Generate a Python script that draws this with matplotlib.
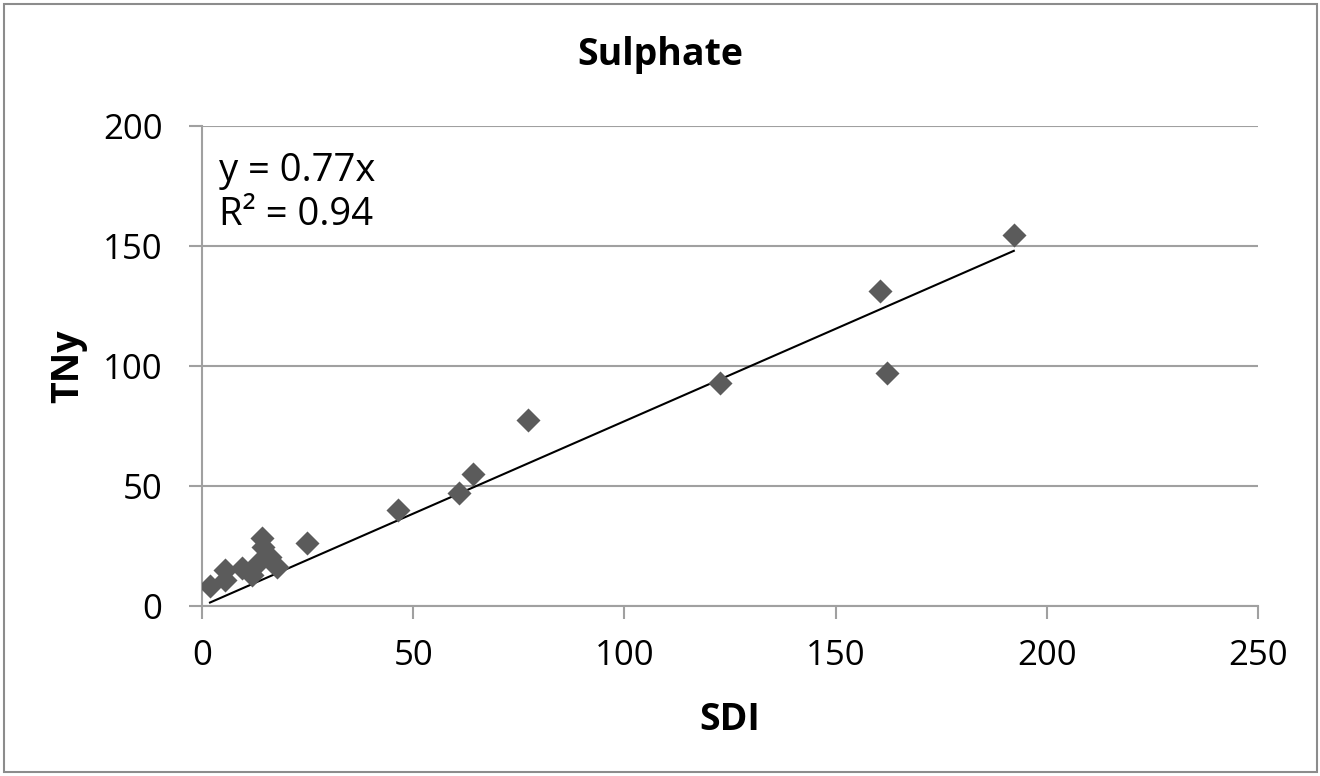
import matplotlib.pyplot as plt
from matplotlib.patches import Rectangle

# Sulphate: SDI vs TNy
sdi = [1.9, 5.4, 5.4, 9.5, 11.8, 13.3, 14.2, 14.4, 16.1, 17.7, 24.8,
       46.4, 60.8, 64.1, 77.2, 122.6, 160.5, 162.1, 192.2]
tny = [8.3, 15.0, 10.8, 15.8, 12.9, 17.9, 28.3, 24.6, 20.4, 16.3, 26.3,
       40.0, 47.0, 55.0, 77.5, 92.9, 131.3, 97.0, 154.6]
slope = 0.77
eq_text = "y = 0.77x\nR\u00b2 = 0.94"

plt.rcParams['font.family'] = ['Open Sans', 'DejaVu Sans']

fig = plt.figure(figsize=(13.2, 7.76), dpi=100)
ax = fig.add_axes([0.153, 0.219, 0.8, 0.6186])

ax.scatter(sdi, tny, marker='D', s=150, color='#5b5b5b', zorder=3, linewidths=0)

# linear trend line through origin
x0, x1 = min(sdi), max(sdi)
ax.plot([x0, x1], [slope * x0, slope * x1], color='black', lw=1.5, zorder=2)

ax.set_xlim(0, 250)
ax.set_ylim(0, 200)
ax.set_xticks(range(0, 251, 50))
ax.set_yticks(range(0, 201, 50))
ax.yaxis.grid(True, color='#a0a0a0', lw=1.5)
ax.set_axisbelow(True)
for s in ['top', 'right']:
    ax.spines[s].set_visible(False)
for s in ['left', 'bottom']:
    ax.spines[s].set_color('#a0a0a0')
    ax.spines[s].set_linewidth(1.5)
ax.tick_params(axis='both', labelsize=25, length=9.5, width=1.5, color='#a0a0a0')
ax.tick_params(axis='x', pad=14)
ax.tick_params(axis='y', pad=19)

ax.text(0.016, 0.945, eq_text, transform=ax.transAxes, fontsize=27.5,
        va='top', ha='left', linespacing=1.2)

fig.text(0.5, 0.929, "Sulphate", ha='center', va='center', fontsize=27, fontweight='bold')
fig.text(0.553, 0.072, "SDI", ha='center', va='center', fontsize=27, fontweight='bold')
fig.text(0.052, 0.528, "TNy", ha='center', va='center', fontsize=27, fontweight='bold', rotation=90)

fig.patches.append(Rectangle((0.003, 0.005), 0.995, 0.99, transform=fig.transFigure,
                             fill=False, edgecolor='#8c8c8c', lw=1.5))

fig.savefig('out.png', dpi=100)
